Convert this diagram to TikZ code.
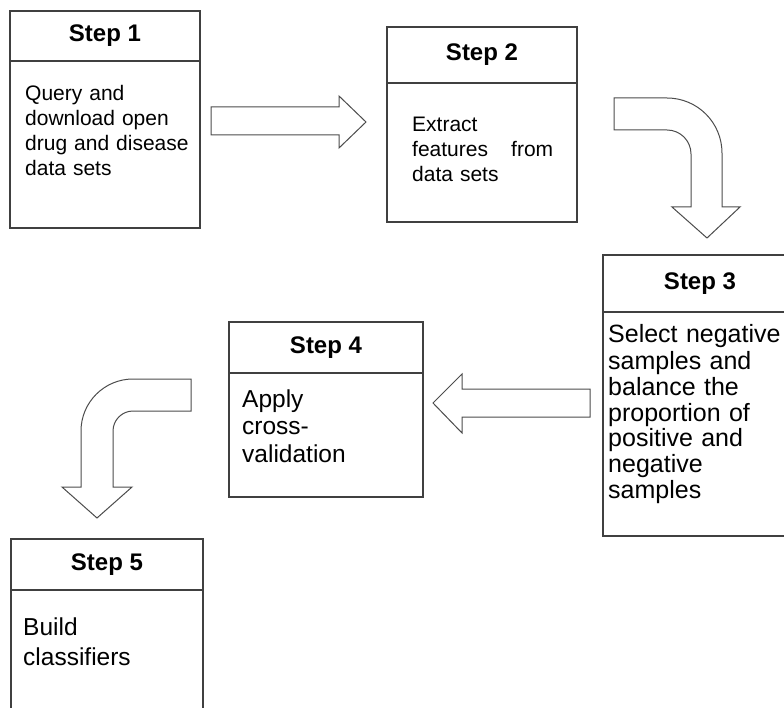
\documentclass[tikz,border=0pt]{standalone}
\usepackage{fontspec}
\setmainfont{Liberation Sans}
\usetikzlibrary{positioning}
\tikzset{
    stephead/.style = {draw=black!75, line width=1.2pt, rectangle, minimum width=190pt, outer sep=0pt, inner sep=0pt, font=\fontsize{24}{28}\selectfont\bfseries},
    stepbody/.style = {draw=black!75, line width=1.2pt, rectangle, minimum width=190pt, outer sep=0pt, inner sep=0pt},
    steptext/.style = {anchor=base west, align=left, inner sep=0pt, text width=#1},
    bigarrow/.style = {draw=black!70, line width=1pt, fill=white, line join=miter}
}

\begin{document}
\begin{tikzpicture}[x=1pt, y=-1pt]
    \useasboundingbox (0,0) rectangle (784,708);
    \clip (0,0) rectangle (784,708);

    % Step 1
    \node[stephead, minimum height=50pt] (head1) at (105,36) {Step 1};
    \node[stepbody, minimum height=167pt, below=0pt of head1] (body1) {};
    \node[steptext=180pt, font=\fontsize{21}{25}\selectfont] (text1) at (25,101) {Query and\\download open\\drug and disease\\data sets};

    % Step 2
    \node[stephead, minimum height=56pt] (head2) at (482,55) {Step 2};
    \node[stepbody, minimum height=139pt, below=0pt of head2] (body2) {};
    \node[steptext=141pt, font=\fontsize{21}{25}\selectfont] (text2) at (412,132) {Extract\\features\hfill from\\data sets};

    % Step 3
    \node[stephead, minimum width=194pt, minimum height=57pt] (head3) at (700,283.5) {Step 3};
    \node[stepbody, minimum width=194pt, minimum height=224pt, below=0pt of head3] (body3) {};
    \node[steptext=185pt, font=\fontsize{25}{26}\selectfont] (text3) at (608,343) {Select negative\\samples and\\balance the\\proportion of\\positive and\\negative\\samples};

    % Step 4
    \node[stephead, minimum width=194pt, minimum height=51pt] (head4) at (326,347.5) {Step 4};
    \node[stepbody, minimum width=194pt, minimum height=124pt, below=0pt of head4] (body4) {};
    \node[steptext=175pt, font=\fontsize{24.5}{27.5}\selectfont] (text4) at (242,407) {Apply\\cross-\\validation};

    % Step 5
    \node[stephead, minimum width=192pt, minimum height=51pt] (head5) at (107,564.5) {Step 5};
    \node[stepbody, minimum width=192pt, minimum height=170pt, below=0pt of head5] (body5) {};
    \node[steptext=175pt, font=\fontsize{24.5}{30}\selectfont] (text5) at (23,635) {Build\\classifiers};

    % Block arrows
    \draw[bigarrow] (211,107) -- (339,107) -- (339,96) -- (366,122) -- (339,148) -- (339,135) -- (211,135) -- cycle;
    \draw[bigarrow] (614,98) -- (667,98) .. controls (697.4,98) and (722,122.6) .. (722,153) -- (722,207) -- (740,207) -- (707,238) -- (672,207) -- (691,207) -- (691,154) .. controls (691,140.7) and (680.3,130) .. (667,130) -- (614,130) -- cycle;
    \draw[bigarrow] (590,389) -- (462,389) -- (462,374) -- (433,403) -- (462,433) -- (462,417) -- (590,417) -- cycle;
    \draw[bigarrow] (191,379) -- (133,379) .. controls (104.3,379) and (81,402.3) .. (81,431) -- (81,487) -- (62,487) -- (97,518) -- (132,487) -- (113,487) -- (113,431) .. controls (113,420) and (122,411) .. (133,411) -- (191,411) -- cycle;

\end{tikzpicture}
\end{document}
